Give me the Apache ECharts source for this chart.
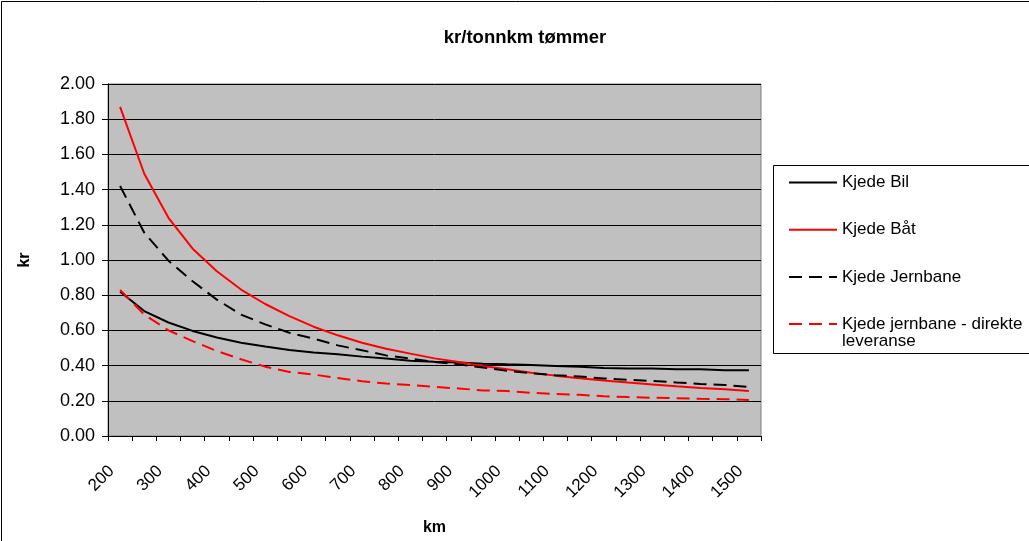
<!DOCTYPE html>
<html>
<head>
<meta charset="utf-8">
<script src="https://cdn.jsdelivr.net/npm/echarts@6/dist/echarts.min.js"></script>
<style>
html,body{margin:0;padding:0;background:#fff;overflow:hidden;}
#chart{width:1029px;height:541px;}
</style>
</head>
<body>
<div id="chart"></div>
<script>
// Distance categories (km)
const kmCategories = ['200','250','300','350','400','450','500','550','600','650','700','750','800','850','900','950','1000','1050','1100','1150','1200','1250','1300','1350','1400','1450','1500'];

// Series values (kr per tonnkm)
const kjedeBil = [0.82,0.71,0.645,0.597,0.56,0.53,0.508,0.488,0.474,0.464,0.451,0.44,0.428,0.422,0.417,0.411,0.407,0.404,0.398,0.394,0.387,0.384,0.383,0.379,0.379,0.374,0.373];
const kjedeBat = [1.87,1.49,1.24,1.064,0.936,0.832,0.75,0.681,0.621,0.572,0.53,0.496,0.468,0.441,0.42,0.398,0.379,0.36,0.343,0.328,0.316,0.304,0.293,0.282,0.273,0.265,0.255];
const kjedeJernbane = [1.42,1.155,0.996,0.879,0.775,0.69,0.634,0.587,0.553,0.515,0.487,0.458,0.44,0.42,0.407,0.389,0.37,0.357,0.345,0.338,0.327,0.319,0.313,0.304,0.296,0.29,0.279];
const kjedeJernbaneDirekte = [0.83,0.69,0.60,0.539,0.483,0.436,0.394,0.364,0.349,0.33,0.311,0.298,0.289,0.279,0.27,0.259,0.256,0.245,0.239,0.234,0.226,0.221,0.217,0.215,0.211,0.209,0.205];

const seriesNames = ['Kjede Bil','Kjede Båt','Kjede Jernbane','Kjede jernbane - direkte'];
const legendSecondLine = 'leveranse';
const titleText = 'kr/tonnkm tømmer';
const yAxisName = 'kr';
const xAxisName = 'km';

const FONT = "'Liberation Sans', Arial, sans-serif";
const chart = echarts.init(document.getElementById('chart'), null, {renderer:'canvas'});

function lineSeries(name, data, color, dashed){
  return {
    name: name, type: 'line', data: data, symbol: 'none', showSymbol: false,
    smooth: false, animation: false,
    itemStyle: {color: color},
    lineStyle: {color: color, width: 2, type: dashed ? [13,7] : 'solid'}
  };
}

const frameLine = {stroke: '#000', lineWidth: 1};

chart.setOption({
  animation: false,
  backgroundColor: '#ffffff',
  title: {
    text: titleText, left: 520, top: 23, textAlign: 'center',
    textStyle: {fontFamily: FONT, fontSize: 18.5, fontWeight: 'bold', color: '#000'}
  },
  grid: {
    left: 108, top: 84, right: 268, bottom: 104,
    show: true, backgroundColor: '#C0C0C0', borderColor: '#808080', borderWidth: 1,
    containLabel: false
  },
  legend: {
    orient: 'vertical', left: 788, top: 174, padding: 0,
    itemWidth: 48, itemHeight: 14, itemGap: 30.2,
    data: seriesNames,
    itemStyle: {opacity: 0},
    textStyle: {fontFamily: FONT, fontSize: 17, color: '#000', lineHeight: 16},
    selectedMode: false,
    z: 10
  },
  xAxis: {
    type: 'category', data: kmCategories, boundaryGap: true,
    name: xAxisName, nameLocation: 'middle', nameGap: 84,
    nameTextStyle: {fontFamily: FONT, fontSize: 16, fontWeight: 'bold', color: '#000'},
    axisLine: {show: true, lineStyle: {color: '#000', width: 1}},
    axisTick: {show: true, interval: 0, length: 5, inside: false, alignWithLabel: false, lineStyle: {color: '#000'}},
    axisLabel: {interval: 1, rotate: 45, margin: 24, padding: [0, 12, 14, 0],
      fontFamily: FONT, fontSize: 17, color: '#000'},
    splitLine: {show: false}
  },
  yAxis: {
    type: 'value', min: 0, max: 2, interval: 0.2,
    name: yAxisName, nameLocation: 'middle', nameGap: 75, nameRotate: 90,
    nameTextStyle: {fontFamily: FONT, fontSize: 16, fontWeight: 'bold', color: '#000'},
    axisLine: {show: true, lineStyle: {color: '#000', width: 1}},
    axisTick: {show: true, length: 6, inside: false, lineStyle: {color: '#000'}},
    axisLabel: {margin: 13, fontFamily: FONT, fontSize: 18, color: '#000',
      formatter: function(v){ return v.toFixed(2); }},
    splitLine: {show: true, lineStyle: {color: '#000', width: 1}}
  },
  graphic: [
    {type: 'line', z: 1, shape: {x1: 1.5, y1: 1.5, x2: 1029, y2: 1.5}, style: frameLine},
    {type: 'line', z: 1, shape: {x1: 1.5, y1: 1.5, x2: 1.5, y2: 541}, style: frameLine},
    {type: 'line', z: 1, shape: {x1: 773.5, y1: 165.5, x2: 1029, y2: 165.5}, style: frameLine},
    {type: 'line', z: 1, shape: {x1: 773.5, y1: 353.5, x2: 1029, y2: 353.5}, style: frameLine},
    {type: 'line', z: 1, shape: {x1: 773.5, y1: 165.5, x2: 773.5, y2: 353.5}, style: frameLine},
    {type: 'text', z: 11, left: 842, top: 333,
     style: {text: legendSecondLine, fontFamily: FONT, fontSize: 17, fill: '#000'}}
  ],
  series: [
    lineSeries(seriesNames[0], kjedeBil, '#000000', false),
    lineSeries(seriesNames[1], kjedeBat, '#FF0000', false),
    lineSeries(seriesNames[2], kjedeJernbane, '#000000', true),
    lineSeries(seriesNames[3], kjedeJernbaneDirekte, '#FF0000', true)
  ]
});
</script>
</body>
</html>
